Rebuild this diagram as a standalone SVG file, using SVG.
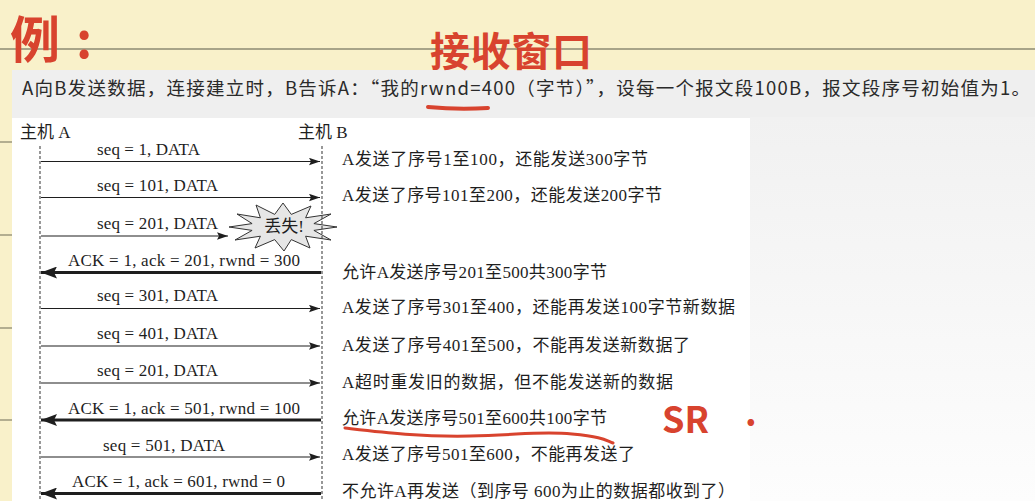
<svg xmlns="http://www.w3.org/2000/svg" width="1035" height="501" viewBox="0 0 1035 501">
<defs>
<linearGradient id="gr" x1="0" y1="0" x2="0" y2="1">
<stop offset="0" stop-color="#f1f1f1"/>
<stop offset="1" stop-color="#fdfdfd"/>
</linearGradient>
<marker id="ah" markerWidth="12" markerHeight="8" refX="11" refY="4" orient="auto" markerUnits="userSpaceOnUse">
<path d="M0,0.3 L11,4 L0,7.7 L2,4 Z" fill="#1e1e1e"/>
</marker>
<marker id="ahk" markerWidth="17" markerHeight="12" refX="16" refY="6" orient="auto" markerUnits="userSpaceOnUse">
<path d="M0,0 L16,6 L0,12 L3,6 Z" fill="#1e1e1e"/>
</marker>
</defs>
<style>
.rule{stroke:#8d8a72;stroke-width:1.3}
.hand{fill:#d8432e;font-family:"Noto Sans CJK SC","Liberation Sans",sans-serif;font-weight:bold}
.red{fill:none;stroke:#d8432e;stroke-linecap:round}
.hdr{font-family:"Noto Sans CJK SC","Liberation Sans",sans-serif;font-size:18.5px;fill:#2a2a2a}
.lbl{font-family:"Liberation Serif","Noto Sans CJK SC",serif;font-size:17px;fill:#1e1e1e}
.note{font-family:"Liberation Serif","Noto Sans CJK SC",serif;font-size:17px;fill:#1e1e1e}
.life{stroke:#444;stroke-width:1.1;stroke-dasharray:3 2;fill:none}
.thin{stroke:#1e1e1e;stroke-width:1.2;marker-end:url(#ah)}
.thick{stroke:#1e1e1e;stroke-width:3;marker-end:url(#ahk)}
</style>
<!-- background -->
<rect x="0" y="0" width="1035" height="501" fill="#f9f1ca"/>
<line class="rule" x1="0" y1="49" x2="1035" y2="49"/>
<line class="rule" x1="0" y1="142" x2="20" y2="142"/>
<line class="rule" x1="0" y1="235" x2="20" y2="235"/>
<line class="rule" x1="0" y1="328" x2="20" y2="328"/>
<line class="rule" x1="0" y1="420" x2="20" y2="420"/>
<rect x="12" y="70" width="1023" height="431" fill="#efefef"/>
<rect x="750" y="117" width="285" height="384" fill="url(#gr)"/>
<rect x="12" y="118" width="738" height="383" fill="#ffffff"/>

<!-- header text -->
<g id="header">
<text class="hdr" x="22" y="95" textLength="1008" lengthAdjust="spacing">A向B发送数据，连接建立时，B告诉A：“我的rwnd=400（字节）”，设每一个报文段100B，报文段序号初始值为1。</text>
</g>

<!-- handwritten annotations -->
<g id="annotations">
<text class="hand" x="10" y="58" font-size="50">例<tspan dx="16">:</tspan></text>
<text class="hand" x="430" y="66" font-size="40" textLength="162" lengthAdjust="spacing">接收窗口</text>
<path class="red" stroke-width="4" d="M428,107 Q458,110 488,108"/>
<text class="hand" x="662" y="433" font-size="36" font-family="Liberation Sans, sans-serif">SR <tspan x="745" y="426">.</tspan></text>
<path class="red" stroke-width="3" d="M345,428 C380,432 420,437 470,436 S540,431 572,434 S605,440 613,443"/>
</g>

<!-- lost marker -->
<g id="lost">
<path d="M337,227 L313.9,230.4 L331,240 L305.6,236.2 L310,248 L291.3,239.6 L284,251 L274.7,239.6 L255,248 L260.4,236.2 L235,240 L252.1,230.4 L229,227 L252.1,223.6 L237,214 L260.4,217.8 L256,205 L274.7,214.4 L283,203 L291.3,214.4 L311,206 L305.6,217.8 L331,214 L313.9,223.6 Z" fill="#e6e6e6" stroke="#333" stroke-width="1"/>
<text class="lbl" x="284" y="232" text-anchor="middle" font-size="15" font-family="Noto Sans CJK SC, sans-serif">丢失!</text>
</g>

<!-- hosts -->
<g id="hostA">
<text class="lbl" x="20" y="138">主机 A</text>
<line class="life" x1="40" y1="146" x2="40" y2="501"/>
</g>
<g id="hostB">
<text class="lbl" x="298" y="138">主机 B</text>
<line class="life" x1="322" y1="146" x2="322" y2="501"/>
</g>

<!-- connectors -->
<g id="connectors">
<line class="thin" x1="41" y1="161.5" x2="320" y2="161.5"/>
<line class="thin" x1="41" y1="197.5" x2="320" y2="197.5"/>
<line class="thin" x1="41" y1="236" x2="228" y2="236"/>
<line class="thick" x1="321" y1="272.5" x2="41" y2="272.5"/>
<line class="thin" x1="41" y1="308.5" x2="320" y2="308.5"/>
<line class="thin" x1="41" y1="346" x2="320" y2="346"/>
<line class="thin" x1="41" y1="383" x2="320" y2="383"/>
<line class="thick" x1="321" y1="420" x2="41" y2="420"/>
<line class="thin" x1="41" y1="457" x2="320" y2="457"/>
<line class="thick" x1="321" y1="493.5" x2="41" y2="493.5"/>
<text class="lbl" x="97" y="155" textLength="103" lengthAdjust="spacing">seq = 1, DATA</text>
<text class="lbl" x="97" y="190.5" textLength="121" lengthAdjust="spacing">seq = 101, DATA</text>
<text class="lbl" x="97" y="229" textLength="121" lengthAdjust="spacing">seq = 201, DATA</text>
<text class="lbl" x="68" y="266" textLength="232" lengthAdjust="spacing">ACK = 1, ack = 201, rwnd = 300</text>
<text class="lbl" x="97" y="301" textLength="121" lengthAdjust="spacing">seq = 301, DATA</text>
<text class="lbl" x="97" y="339" textLength="121" lengthAdjust="spacing">seq = 401, DATA</text>
<text class="lbl" x="97" y="376" textLength="121" lengthAdjust="spacing">seq = 201, DATA</text>
<text class="lbl" x="68" y="413.5" textLength="232" lengthAdjust="spacing">ACK = 1, ack = 501, rwnd = 100</text>
<text class="lbl" x="103" y="450.5" textLength="122" lengthAdjust="spacing">seq = 501, DATA</text>
<text class="lbl" x="72" y="487" textLength="213" lengthAdjust="spacing">ACK = 1, ack = 601, rwnd = 0</text>
</g>

<!-- notes at host B -->
<g id="notes">
<text class="note" x="342" y="165" textLength="306" lengthAdjust="spacing">A发送了序号1至100，还能发送300字节</text>
<text class="note" x="342" y="201" textLength="320" lengthAdjust="spacing">A发送了序号101至200，还能发送200字节</text>
<text class="note" x="342" y="278" textLength="265" lengthAdjust="spacing">允许A发送序号201至500共300字节</text>
<text class="note" x="342" y="313" textLength="393" lengthAdjust="spacing">A发送了序号301至400，还能再发送100字节新数据</text>
<text class="note" x="342" y="351" textLength="348" lengthAdjust="spacing">A发送了序号401至500，不能再发送新数据了</text>
<text class="note" x="342" y="388" textLength="331" lengthAdjust="spacing">A超时重发旧的数据，但不能发送新的数据</text>
<text class="note" x="342" y="424" textLength="265" lengthAdjust="spacing">允许A发送序号501至600共100字节</text>
<text class="note" x="342" y="460" textLength="293" lengthAdjust="spacing">A发送了序号501至600，不能再发送了</text>
<text class="note" x="342" y="497" textLength="393" lengthAdjust="spacing">不允许A再发送（到序号 600为止的数据都收到了）</text>
</g>
</svg>
